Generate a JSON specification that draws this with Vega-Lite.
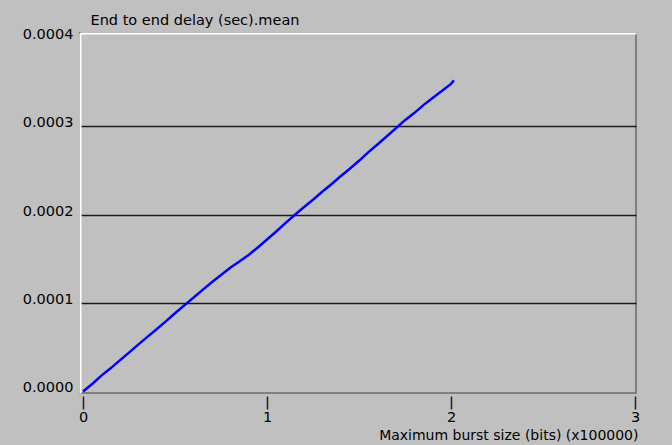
{
  "$schema": "https://vega.github.io/schema/vega-lite/v6.json",
  "width": 556,
  "height": 360,
  "autosize": {"type": "none"},
  "padding": {"left": 80, "top": 33, "right": 36, "bottom": 52},
  "background": "#c0c0c0",
  "config": {
    "view": {"stroke": "#808080", "strokeWidth": 2, "fill": "#c0c0c0"},
    "font": "DejaVu Sans",
    "axis": {"labelFont": "DejaVu Sans", "titleFont": "DejaVu Sans", "labelColor": "#000000", "titleColor": "#000000", "labelFontSize": 14.5, "titleFontSize": 14.5, "titleFontWeight": "normal"}
  },
  "data": {"values": [
    {"burst": 0.00, "delay": 0.0000000},
    {"burst": 0.05, "delay": 0.0000085},
    {"burst": 0.10, "delay": 0.0000180},
    {"burst": 0.15, "delay": 0.0000262},
    {"burst": 0.20, "delay": 0.0000352},
    {"burst": 0.25, "delay": 0.0000440},
    {"burst": 0.30, "delay": 0.0000530},
    {"burst": 0.35, "delay": 0.0000618},
    {"burst": 0.40, "delay": 0.0000705},
    {"burst": 0.45, "delay": 0.0000793},
    {"burst": 0.50, "delay": 0.0000885},
    {"burst": 0.565, "delay": 0.0001000},
    {"burst": 0.60, "delay": 0.0001060},
    {"burst": 0.65, "delay": 0.0001150},
    {"burst": 0.70, "delay": 0.0001235},
    {"burst": 0.75, "delay": 0.0001318},
    {"burst": 0.80, "delay": 0.0001400},
    {"burst": 0.85, "delay": 0.0001470},
    {"burst": 0.90, "delay": 0.0001545},
    {"burst": 0.95, "delay": 0.0001630},
    {"burst": 1.00, "delay": 0.0001720},
    {"burst": 1.05, "delay": 0.0001810},
    {"burst": 1.10, "delay": 0.0001905},
    {"burst": 1.152, "delay": 0.0002000},
    {"burst": 1.20, "delay": 0.0002085},
    {"burst": 1.25, "delay": 0.0002170},
    {"burst": 1.30, "delay": 0.0002260},
    {"burst": 1.35, "delay": 0.0002345},
    {"burst": 1.40, "delay": 0.0002435},
    {"burst": 1.45, "delay": 0.0002520},
    {"burst": 1.50, "delay": 0.0002610},
    {"burst": 1.55, "delay": 0.0002705},
    {"burst": 1.60, "delay": 0.0002795},
    {"burst": 1.65, "delay": 0.0002885},
    {"burst": 1.712, "delay": 0.0003000},
    {"burst": 1.75, "delay": 0.0003070},
    {"burst": 1.80, "delay": 0.0003150},
    {"burst": 1.85, "delay": 0.0003240},
    {"burst": 1.90, "delay": 0.0003320},
    {"burst": 1.95, "delay": 0.0003400},
    {"burst": 2.00, "delay": 0.0003480},
    {"burst": 2.016, "delay": 0.0003520}
  ]},
  "layer": [
    {
      "mark": {"type": "line", "opacity": 0},
      "encoding": {
        "x": {
          "field": "burst", "type": "quantitative",
          "scale": {"domain": [-0.0163, 3.0054], "nice": false, "zero": false},
          "axis": {
            "orient": "bottom", "values": [0, 1, 2, 3], "format": "d", "grid": false,
            "domain": false, "offset": 3, "tickSize": 13, "tickWidth": 1.5, "tickColor": "#202020",
            "labelPadding": 1, "labelFlush": false,
            "title": "Maximum burst size (bits) (x100000)", "titleFontSize": 14,
            "titleAnchor": "end", "titleAlign": "right", "titleBaseline": "middle",
            "titleX": 558, "titleY": 39
          }
        },
        "y": {
          "field": "delay", "type": "quantitative",
          "scale": {"domain": [-0.0000017, 0.0004056], "nice": false, "zero": false},
          "axis": {
            "orient": "left", "values": [0, 0.0001, 0.0002, 0.0003, 0.0004], "format": ".4f",
            "grid": false, "ticks": false, "labelPadding": 7, "labelOffset": -3.5,
            "domain": true, "domainColor": "#ffffff", "domainWidth": 2,
            "title": "End to end delay (sec).mean",
            "titleAngle": 0, "titleAlign": "left", "titleBaseline": "middle",
            "titleX": 10, "titleY": -13
          }
        }
      }
    },
    {
      "mark": {"type": "line", "color": "#0000ff", "strokeWidth": 2.5},
      "encoding": {
        "x": {
          "field": "burst", "type": "quantitative",
          "scale": {"domain": [-0.0163, 3.0054], "nice": false, "zero": false},
          "axis": {"orient": "top", "labels": false, "ticks": false, "grid": false, "title": null,
                   "domain": true, "domainColor": "#ffffff", "domainWidth": 2}
        },
        "y": {
          "field": "delay", "type": "quantitative",
          "scale": {"domain": [-0.0000017, 0.0004056], "nice": false, "zero": false},
          "axis": {"orient": "right", "labels": false, "ticks": false, "domain": false, "title": null,
                   "grid": true, "values": [0.0001, 0.0002, 0.0003], "gridColor": "#1a1a1a", "gridWidth": 1.5, "gridOpacity": 1}
        }
      }
    }
  ],
  "resolve": {"axis": {"x": "independent", "y": "independent"}}
}
